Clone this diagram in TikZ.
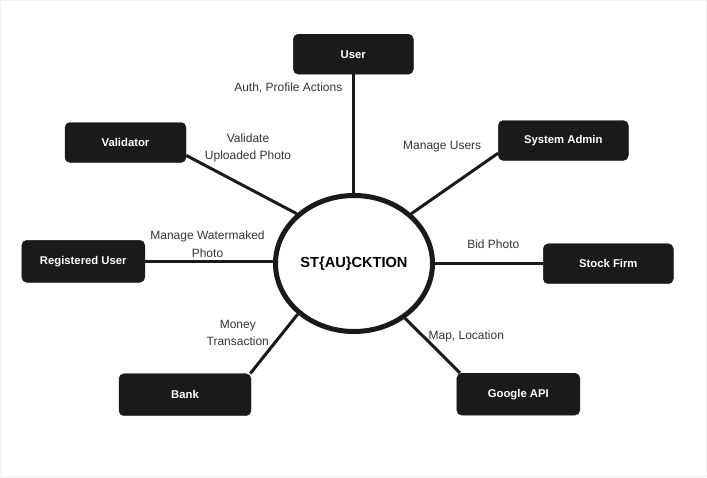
\documentclass[tikz,border=0pt]{standalone}
\usepackage{fontspec}
\setmainfont{Liberation Sans}
\usetikzlibrary{shapes.geometric}
\definecolor{boxc}{HTML}{1A1A1A}
\definecolor{labc}{HTML}{333333}
\begin{document}
\begin{tikzpicture}[x=1pt,y=-1pt,
  actor/.style={draw=boxc, fill=boxc, rounded corners=5pt, text=white,
    font=\fontsize{11.3}{13}\selectfont\bfseries, inner sep=0pt, minimum height=40pt},
  lbl/.style={text=labc, font=\fontsize{12}{17.7}\selectfont, align=center, inner sep=0pt},
  conn/.style={draw=boxc, line width=3pt}]
\path[use as bounding box] (0,0) rectangle (707,477);
\draw[black!5] (0.5,0.5) rectangle (706,476);

\node[ellipse, draw=boxc, fill=white, line width=5pt, minimum width=157pt, minimum height=136pt,
  inner sep=0pt, font=\fontsize{14.6}{16}\selectfont\bfseries] (c) at (354,263.5) {ST\{AU\}CKTION};

\node[actor, minimum width=120pt] (user) at (353.3,54.2) {User};
\node[actor, minimum width=121pt] (val) at (125.5,142.5) {Validator};
\node[actor, minimum width=130pt] (sys) at (563.3,140.5) {System Admin};
\node[actor, minimum width=130pt] (stock) at (608.3,263.7) {Stock Firm};
\node[actor, minimum width=123pt, minimum height=42pt] (reg) at (83.3,261.3) {Registered User};
\node[actor, minimum width=132pt, minimum height=42pt] (bank) at (185,394.7) {Bank};
\node[actor, minimum width=123pt, minimum height=42pt] (google) at (518.3,394.2) {Google API};

\draw[conn] (user.south) -- (user.south |- c.north);
\draw[conn] (val.-12) -- (c.139.4);
\draw[conn] (sys.191) -- (c.41);
\draw[conn] (stock.west) -- (stock.west -| c.east);
\draw[conn] (reg.east) -- (reg.east -| c.west);
\draw[conn] (bank.18) -- (c.222);
\draw[conn] (google.160) -- (c.313);

\node[lbl] (l1) at (288.3,88) {Auth, Profile Actions};
\node[lbl] (l2) at (248,148) {Validate\\Uploaded Photo};
\node[lbl] (l3) at (442.2,146.7) {Manage Users};
\node[lbl] (l4) at (493.3,244) {Bid Photo};
\node[lbl] (l5) at (207.5,243.9) {Manage Watermaked\\Photo};
\node[lbl] (l6) at (237.8,332.9) {Money\\Transaction};
\node[lbl] (l7) at (466.3,336.7) {Map, Location};
\end{tikzpicture}
\end{document}
